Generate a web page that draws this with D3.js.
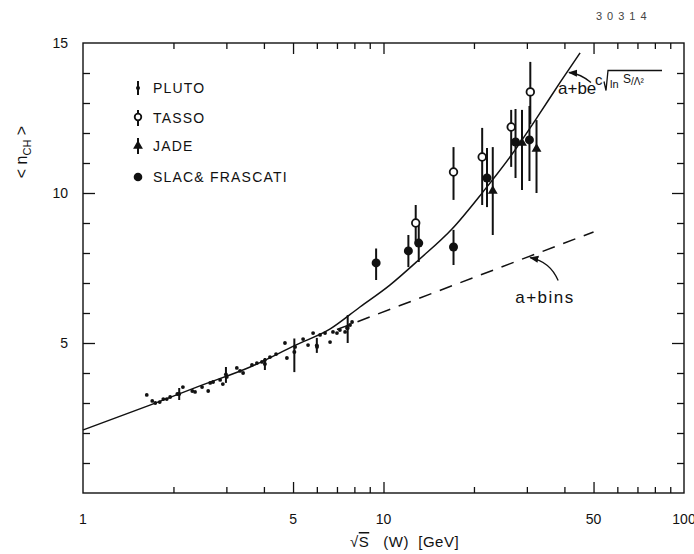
<!DOCTYPE html>
<html>
<head>
<meta charset="utf-8">
<script src="https://cdn.jsdelivr.net/npm/d3@7"></script>
<style>
body { margin: 0; background: #fff; }
text { font-family: "Liberation Sans", Arial, sans-serif; fill: #111; }
</style>
</head>
<body>
<div id="chart"></div>
<script>
// tick values
var xTickLabels = [1, 5, 10, 50, 100];
var xMajorTicks = [5, 10, 50];
var xMinorTicks = [2, 3, 4, 6, 7, 8, 9, 20, 30, 40, 60, 70, 80, 90];
var yTickLabels = [5, 10, 15];
var yMajorTicks = [5, 10];
var yMinorTicks = [1, 2, 3, 4, 6, 7, 8, 9, 11, 12, 13, 14];

// fit a+b exp(c sqrt(ln s/L^2))
var fitW = [1, 1.67, 2.45, 3.6, 5.1, 6.65, 8.35, 10.5, 13.2, 16.9, 21.4, 26.8, 32.7, 38.6, 45.1];
var fitN = [2.1, 2.93, 3.57, 4.2, 4.93, 5.47, 6.2, 6.93, 7.8, 8.8, 10.03, 11.3, 12.57, 13.67, 14.67];
// fit a+b ln s (dashed)
var lnW = [7, 50];
var lnN = [5.45, 8.7];

// low energy points (SLAC & Frascati), small dots
var slacW = [1.63, 1.70, 1.74, 1.80, 1.85, 1.90, 1.95, 2.06, 2.15, 2.31, 2.36, 2.49, 2.61, 2.65, 2.71, 2.86, 2.92, 3.01,
             3.25, 3.33, 3.41, 3.65, 3.79, 3.94, 4.03, 4.19, 4.39, 4.70, 4.77, 5.08, 5.40, 5.61, 5.83, 6.01, 6.15,
             6.39, 6.64, 6.79, 7.0, 7.16, 7.45, 7.56, 7.74, 7.86];
var slacN = [3.27, 3.07, 3.0, 3.03, 3.13, 3.13, 3.2, 3.3, 3.53, 3.4, 3.37, 3.53, 3.4, 3.67, 3.7, 3.77, 3.63, 3.87,
             4.17, 4.07, 4.0, 4.27, 4.33, 4.37, 4.43, 4.53, 4.63, 5.0, 4.5, 4.87, 5.13, 4.93, 5.33, 4.87, 5.27,
             5.33, 5.03, 5.37, 5.33, 5.43, 5.37, 5.5, 5.6, 5.7];

// PLUTO low energy points with error bars
var plutoW = [2.09, 2.99, 4.03, 5.05, 6.0, 7.6];
var plutoN = [3.3, 3.95, 4.3, 4.7, 4.92, 5.5];
var plutoLo = [3.1, 3.67, 4.1, 4.03, 4.67, 5.0];
var plutoHi = [3.5, 4.2, 4.5, 5.15, 5.17, 5.93];

// large filled points
var dotW = [9.45, 12.1, 13.1, 17.1, 22.1, 27.5, 30.6];
var dotN = [7.67, 8.07, 8.33, 8.2, 10.5, 11.7, 11.77];
var dotLo = [7.1, 7.53, 7.7, 7.6, 9.53, 10.5, 10.4];
var dotHi = [8.15, 8.6, 9.0, 8.77, 11.5, 12.8, 12.9];

// TASSO
var tassoW = [12.8, 17.1, 21.3, 26.6, 30.8];
var tassoN = [9.0, 10.7, 11.2, 12.2, 13.37];
var tassoLo = [8.3, 9.77, 9.6, 10.87, 12.3];
var tassoHi = [9.6, 11.53, 12.17, 12.77, 14.37];

// JADE
var jadeW = [23.1, 28.9, 32.3];
var jadeN = [10.07, 11.67, 11.47];
var jadeLo = [8.6, 10.1, 10.0];
var jadeHi = [11.53, 12.77, 12.43];

var legendNames = ["PLUTO", "TASSO", "JADE", "SLAC& FRASCATI"];

var svg = d3.select("#chart").append("svg")
    .attr("width", 694)
    .attr("height", 554);

var x = d3.scaleLog().domain([1, 100]).range([83, 684]);
var y = d3.scaleLinear().domain([0, 15]).range([493, 43]);

function zip(w, n, lo, hi) {
  return w.map(function(d, i) {
    return {w: d, n: n[i], lo: lo ? lo[i] : null, hi: hi ? hi[i] : null};
  });
}

// frame
svg.append("rect")
    .attr("x", x(1)).attr("y", y(15))
    .attr("width", x(100) - x(1)).attr("height", y(0) - y(15))
    .attr("fill", "none").attr("stroke", "#111").attr("stroke-width", 1.4);

function ticks(axis, tr) {
  var g = svg.append("g").attr("transform", tr).call(axis);
  g.select(".domain").remove();
  g.selectAll(".tick line").attr("stroke", "#111").attr("stroke-width", 1.3);
  g.selectAll(".tick text").remove();
}
ticks(d3.axisBottom(x).tickValues(xMinorTicks).tickSize(-6), "translate(0," + y(0) + ")");
ticks(d3.axisBottom(x).tickValues(xMajorTicks).tickSize(-11), "translate(0," + y(0) + ")");
ticks(d3.axisTop(x).tickValues(xMinorTicks).tickSize(-6), "translate(0," + y(15) + ")");
ticks(d3.axisTop(x).tickValues(xMajorTicks).tickSize(-11), "translate(0," + y(15) + ")");
ticks(d3.axisLeft(y).tickValues(yMinorTicks).tickSize(-7), "translate(" + x(1) + ",0)");
ticks(d3.axisLeft(y).tickValues(yMajorTicks).tickSize(-12), "translate(" + x(1) + ",0)");
ticks(d3.axisRight(y).tickValues(yMinorTicks).tickSize(-7), "translate(" + x(100) + ",0)");
ticks(d3.axisRight(y).tickValues(yMajorTicks).tickSize(-12), "translate(" + x(100) + ",0)");

// tick labels
svg.selectAll(".xlab").data(xTickLabels).enter().append("text")
    .attr("x", function(d) { return x(d); })
    .attr("y", 524)
    .attr("text-anchor", "middle")
    .attr("font-size", 14)
    .text(function(d) { return d; });
svg.selectAll(".ylab").data(yTickLabels).enter().append("text")
    .attr("x", 68)
    .attr("y", function(d) { return y(d) + 5; })
    .attr("text-anchor", "end")
    .attr("font-size", 14)
    .text(function(d) { return d; });

// axis titles
var xt = svg.append("text").attr("x", 350).attr("y", 547).attr("font-size", 15)
    .attr("letter-spacing", 0.5).attr("xml:space", "preserve");
xt.append("tspan").text("\u221A");
xt.append("tspan").attr("text-decoration", "overline").text("S");
xt.append("tspan").text("   (W)  [GeV]");

var yt = svg.append("text")
    .attr("transform", "translate(27,152) rotate(-90)")
    .attr("text-anchor", "middle")
    .attr("font-size", 16)
    .attr("xml:space", "preserve");
yt.append("tspan").text("< n");
yt.append("tspan").attr("font-size", 11).attr("dy", 4).text("CH");
yt.append("tspan").attr("dy", -4).text(" >");

svg.append("text").attr("x", 596).attr("y", 20)
    .attr("font-family", "DejaVu Sans Mono, monospace")
    .attr("font-size", 11).attr("letter-spacing", 5)
    .style("fill", "#444")
    .text("30314");

// fit curves
var line = d3.line()
    .x(function(d) { return x(d.w); })
    .y(function(d) { return y(d.n); })
    .curve(d3.curveMonotoneX);

svg.append("path")
    .attr("d", line(zip(fitW, fitN)))
    .attr("fill", "none").attr("stroke", "#111").attr("stroke-width", 1.5);

svg.append("path")
    .attr("d", line(zip(lnW, lnN)))
    .attr("fill", "none").attr("stroke", "#111").attr("stroke-width", 1.5)
    .attr("stroke-dasharray", "13,9");

// error bars
function bars(data) {
  svg.append("g").selectAll("line").data(data).enter().append("line")
      .attr("x1", function(d) { return x(d.w); })
      .attr("x2", function(d) { return x(d.w); })
      .attr("y1", function(d) { return y(d.lo); })
      .attr("y2", function(d) { return y(d.hi); })
      .attr("stroke", "#111").attr("stroke-width", 2);
}
var pluto = zip(plutoW, plutoN, plutoLo, plutoHi);
var dots = zip(dotW, dotN, dotLo, dotHi);
var tasso = zip(tassoW, tassoN, tassoLo, tassoHi);
var jade = zip(jadeW, jadeN, jadeLo, jadeHi);
bars(pluto); bars(dots); bars(tasso); bars(jade);

// markers
svg.append("g").selectAll("circle").data(zip(slacW, slacN)).enter().append("circle")
    .attr("cx", function(d) { return x(d.w); })
    .attr("cy", function(d) { return y(d.n); })
    .attr("r", 1.9).attr("fill", "#111");

svg.append("g").selectAll("circle").data(pluto).enter().append("circle")
    .attr("cx", function(d) { return x(d.w); })
    .attr("cy", function(d) { return y(d.n); })
    .attr("r", 2).attr("fill", "#111");

svg.append("g").selectAll("circle").data(dots).enter().append("circle")
    .attr("cx", function(d) { return x(d.w); })
    .attr("cy", function(d) { return y(d.n); })
    .attr("r", 4.5).attr("fill", "#111");

var tri = d3.symbol().type(d3.symbolTriangle).size(42);
svg.append("g").selectAll("path").data(jade).enter().append("path")
    .attr("transform", function(d) { return "translate(" + x(d.w) + "," + y(d.n) + ")"; })
    .attr("d", tri).attr("fill", "#111");

svg.append("g").selectAll("circle").data(tasso).enter().append("circle")
    .attr("cx", function(d) { return x(d.w); })
    .attr("cy", function(d) { return y(d.n); })
    .attr("r", 3.8).attr("fill", "#fff").attr("stroke", "#111").attr("stroke-width", 1.8);

// legend
var legY = [88, 118, 146, 177];
var lg = svg.append("g");
lg.selectAll("text").data(legendNames).enter().append("text")
    .attr("x", 153)
    .attr("y", function(d, i) { return legY[i] + 5; })
    .attr("font-size", 14)
    .attr("letter-spacing", 1.2)
    .text(function(d) { return d; });
var sx = 138;
lg.append("line").attr("x1", sx).attr("x2", sx).attr("y1", legY[0] - 7).attr("y2", legY[0] + 7)
    .attr("stroke", "#111").attr("stroke-width", 2);
lg.append("circle").attr("cx", sx).attr("cy", legY[0]).attr("r", 2).attr("fill", "#111");
lg.append("line").attr("x1", sx).attr("x2", sx).attr("y1", legY[1] - 8).attr("y2", legY[1] + 8)
    .attr("stroke", "#111").attr("stroke-width", 2);
lg.append("circle").attr("cx", sx).attr("cy", legY[1] - 1).attr("r", 3.3)
    .attr("fill", "#fff").attr("stroke", "#111").attr("stroke-width", 1.8);
lg.append("line").attr("x1", sx).attr("x2", sx).attr("y1", legY[2] - 8).attr("y2", legY[2] + 8)
    .attr("stroke", "#111").attr("stroke-width", 2);
lg.append("path").attr("transform", "translate(" + sx + "," + legY[2] + ")")
    .attr("d", tri).attr("fill", "#111");
lg.append("circle").attr("cx", sx).attr("cy", legY[3]).attr("r", 4.3).attr("fill", "#111");

// annotations
svg.append("defs").append("marker")
    .attr("id", "ah").attr("viewBox", "0 0 10 10")
    .attr("refX", 9).attr("refY", 5)
    .attr("markerWidth", 7).attr("markerHeight", 7)
    .attr("orient", "auto")
  .append("path").attr("d", "M0,1L10,5L0,9Z").attr("fill", "#111");

var t1 = [x(30.3), y(7.88)];
svg.append("path")
    .attr("d", "M" + (t1[0] + 30) + "," + (t1[1] + 24) + "Q" + (t1[0] + 22) + "," + (t1[1] + 5) + " " + (t1[0] + 2) + "," + (t1[1] + 1))
    .attr("fill", "none").attr("stroke", "#111").attr("stroke-width", 1.3)
    .attr("marker-end", "url(#ah)");
svg.append("text").attr("x", t1[0] - 13).attr("y", t1[1] + 46)
    .attr("font-size", 17).attr("letter-spacing", 1.5)
    .text("a+bins");

var t2 = [x(40.8), y(14.05)];
svg.append("path")
    .attr("d", "M" + (t2[0] + 24) + "," + (t2[1] + 11) + "Q" + (t2[0] + 13) + "," + (t2[1] + 2) + " " + (t2[0] + 2) + "," + (t2[1] + 1))
    .attr("fill", "none").attr("stroke", "#111").attr("stroke-width", 1.3)
    .attr("marker-end", "url(#ah)");
var lx = t2[0] - 9, ly = t2[1] + 22;
svg.append("text").attr("x", lx).attr("y", ly).attr("font-size", 17).text("a+be");
svg.append("text").attr("x", lx + 37).attr("y", ly - 9).attr("font-size", 15).text("c");
svg.append("path")
    .attr("d", "M" + (lx + 46) + "," + (ly - 12) + "L" + (lx + 48) + "," + (ly - 3) + "L" + (lx + 50) + "," + (ly - 23) + "L" + (lx + 104) + "," + (ly - 23))
    .attr("fill", "none").attr("stroke", "#111").attr("stroke-width", 1.3);
svg.append("text").attr("x", lx + 52).attr("y", ly - 6).attr("font-size", 11).text("ln");
svg.append("text").attr("x", lx + 65).attr("y", ly - 11).attr("font-size", 12).text("S");
svg.append("text").attr("x", lx + 73).attr("y", ly - 9).attr("font-size", 10).text("/\u039B\u00B2");
</script>
</body>
</html>
